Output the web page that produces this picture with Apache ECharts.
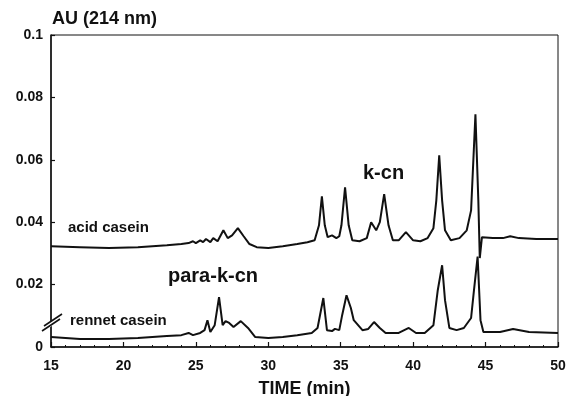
<!DOCTYPE html>
<html>
<head>
<meta charset="utf-8">
<script src="https://cdn.jsdelivr.net/npm/echarts@6/dist/echarts.min.js"></script>
<style>html,body{margin:0;padding:0;background:#fff}#c{width:566px;height:396px}</style>
</head>
<body>
<div id="c"></div>
<script>
// ---- data ----
var xTicks = [15, 20, 25, 30, 35, 40, 45, 50];
var yTickLabels = ['0', '0.02', '0.04', '0.06', '0.08', '0.1'];

var acidTime = [15,17,19,21,23,24,24.5,24.8,25,25.3,25.5,25.7,26,26.2,26.5,26.9,27.2,27.5,27.9,28.3,28.7,29.2,30,31,32,32.7,33.2,33.5,33.7,33.9,34.1,34.4,34.7,34.9,35.05,35.3,35.55,35.8,36.3,36.8,37.1,37.45,37.7,38,38.3,38.6,39,39.5,40,40.5,41,41.4,41.6,41.8,42,42.2,42.6,43.2,43.7,44,44.3,44.5,44.6,44.75,45.5,46.2,46.7,47.3,48.5,50];
var acidAU = [0.0323,0.032,0.0317,0.032,0.0326,0.033,0.0333,0.0339,0.0333,0.0342,0.0336,0.0346,0.0336,0.0349,0.0339,0.0374,0.0349,0.0358,0.0381,0.0355,0.033,0.032,0.0317,0.0323,0.033,0.0336,0.0342,0.039,0.0483,0.039,0.0352,0.0358,0.0349,0.0355,0.039,0.0512,0.039,0.0342,0.0339,0.0349,0.040,0.0374,0.040,0.049,0.039,0.0342,0.0342,0.0368,0.0342,0.0339,0.0349,0.0381,0.047,0.0614,0.047,0.0374,0.0342,0.0349,0.0374,0.0438,0.0746,0.047,0.0285,0.0352,0.0349,0.0349,0.0355,0.0349,0.0346,0.0346];

var rennetTime = [15,17,19,21,23,24,24.5,24.8,25.3,25.6,25.8,26,26.3,26.6,26.85,27.05,27.3,27.6,28.1,28.6,29.1,30,31,32,33,33.4,33.8,34.05,34.4,34.6,34.9,35.1,35.4,35.7,35.9,36.5,36.9,37.3,37.7,38.1,39,39.7,40.2,40.8,41.4,41.7,42,42.2,42.5,43,43.5,44,44.2,44.45,44.65,44.85,46,46.9,48,50];
var rennetAU = [0.0032,0.0026,0.0026,0.0029,0.0035,0.0038,0.0045,0.0038,0.0045,0.0054,0.0086,0.0048,0.007,0.016,0.007,0.0083,0.0077,0.0064,0.0083,0.0061,0.0032,0.0029,0.0032,0.0038,0.0045,0.0061,0.0157,0.0054,0.0051,0.0058,0.0054,0.0102,0.0166,0.0125,0.0086,0.0054,0.0058,0.008,0.0061,0.0045,0.0045,0.0061,0.0045,0.0045,0.007,0.0182,0.0262,0.015,0.0061,0.0054,0.0061,0.0093,0.0182,0.029,0.0086,0.0048,0.0048,0.0058,0.0048,0.0045];

function pairs(xs, ys){ return xs.map(function(x,i){ return [x, ys[i]]; }); }

var FONT = '"Liberation Sans", Arial, sans-serif';
var chart = echarts.init(document.getElementById('c'), null, {renderer:'canvas'});
chart.setOption({
  animation: false,
  backgroundColor: '#fff',
  grid: {left: 51, right: 8, top: 35, bottom: 49, show: true, borderColor: '#111', borderWidth: 1,
         containLabel: false, outerBoundsMode: 'none'},
  xAxis: {
    type: 'value', min: 15, max: 50, interval: 5,
    axisLine: {lineStyle: {color: '#111', width: 1.5}},
    axisTick: {inside: true, length: 5, lineStyle: {color: '#111', width: 1.2}},
    minorTick: {show: true, splitNumber: 5, length: 2, lineStyle: {color: '#111'}},
    splitLine: {show: false},
    axisLabel: {margin: 12, color: '#111', fontFamily: FONT, fontWeight: 'bold', fontSize: 14,
      formatter: function(v){ var i = xTicks.indexOf(v); return i >= 0 ? String(xTicks[i]) : ''; }},
    name: 'TIME (min)', nameLocation: 'middle', nameGap: 33,
    nameTextStyle: {color: '#111', fontFamily: FONT, fontWeight: 'bold', fontSize: 18}
  },
  yAxis: {
    type: 'value', min: 0, max: 0.1, interval: 0.02,
    axisLine: {show: true, lineStyle: {color: '#111', width: 1.5}},
    axisTick: {show: true, inside: true, length: 4, lineStyle: {color: '#111', width: 1.2}},
    splitLine: {show: false},
    axisLabel: {margin: 8, color: '#111', fontFamily: FONT, fontWeight: 'bold', fontSize: 14,
      formatter: function(v){ var i = Math.round(v / 0.02); return yTickLabels[i] || ''; }}
  },
  series: [
    {type: 'line', name: 'acid casein', data: pairs(acidTime, acidAU), showSymbol: false, symbol: 'none',
     lineStyle: {color: '#111', width: 2}, silent: true},
    {type: 'line', name: 'rennet casein', data: pairs(rennetTime, rennetAU), showSymbol: false, symbol: 'none',
     lineStyle: {color: '#111', width: 2}, silent: true}
  ],
  graphic: [
    {type: 'text', left: 52, top: 10, style: {text: 'AU (214 nm)', font: 'bold 18px ' + FONT, fill: '#111'}},
    {type: 'text', left: 68, top: 220, style: {text: 'acid casein', font: 'bold 15px ' + FONT, fill: '#111'}},
    {type: 'text', left: 70, top: 313, style: {text: 'rennet casein', font: 'bold 15px ' + FONT, fill: '#111'}},
    {type: 'text', left: 363, top: 163, style: {text: 'k-cn', font: 'bold 20px ' + FONT, fill: '#111'}},
    {type: 'text', left: 168, top: 266, style: {text: 'para-k-cn', font: 'bold 20px ' + FONT, fill: '#111'}},
    {type: 'polygon', shape: {points: [[44,326],[61,315],[61,320],[44,331]]}, style: {fill: '#fff'}, z: 100},
    {type: 'line', shape: {x1: 44, y1: 326, x2: 62, y2: 314}, style: {stroke: '#111', lineWidth: 1.6}, z: 101},
    {type: 'line', shape: {x1: 42, y1: 331, x2: 60, y2: 319}, style: {stroke: '#111', lineWidth: 1.6}, z: 101}
  ]
});
</script>
</body>
</html>
